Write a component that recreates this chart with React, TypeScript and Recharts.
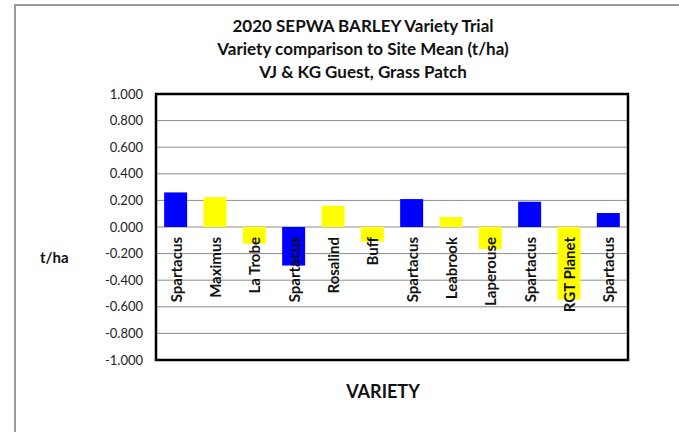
import { Bar, BarChart, CartesianGrid, Cell, LabelList, ReferenceArea, XAxis, YAxis } from 'recharts';

const varieties = [
  'Spartacus', 'Maximus', 'La Trobe', 'Spartacus', 'Rosalind', 'Buff',
  'Spartacus', 'Leabrook', 'Laperouse', 'Spartacus', 'RGT Planet', 'Spartacus',
];
const diffToMean = [0.26, 0.225, -0.125, -0.29, 0.16, -0.11, 0.21, 0.075, -0.165, 0.19, -0.545, 0.105];
const yTicks = [-1, -0.8, -0.6, -0.4, -0.2, 0, 0.2, 0.4, 0.6, 0.8, 1];
const checkVariety = 'Spartacus';

const data = varieties.map((name, i) => ({ name, diff: diffToMean[i] }));

const FONT = 'Lato, "Open Sans", sans-serif';

// variety name sits just under the zero line, reading bottom-to-top
const VarietyLabel = (props: any) => {
  const { x, y, width, height, index } = props;
  const v = diffToMean[index];
  const zeroY = v >= 0 ? Math.max(y, y + height) : Math.min(y, y + height);
  const cx = x + width / 2;
  const ty = zeroY + 10;
  return (
    <text
      x={cx}
      y={ty}
      transform={`rotate(-90, ${cx}, ${ty})`}
      textAnchor="end"
      dominantBaseline="central"
      fontFamily={FONT}
      fontWeight="bold"
      fontSize={15}
      fill="#111"
    >
      {varieties[index]}
    </text>
  );
};

export default function App() {
  return (
    <div style={{ position: 'absolute', left: 0, top: 0, width: 679, height: 432, overflow: 'hidden', background: '#fff', fontFamily: FONT }}>
      <div style={{ position: 'absolute', left: 14, top: 4, width: 900, height: 600, border: '2px solid #9a9a9a' }} />
      <div style={{ position: 'absolute', left: 163, width: 400, top: 14, textAlign: 'center', fontWeight: 'bold', fontSize: 17, lineHeight: '23px', color: '#111' }}>
        <div>2020 SEPWA BARLEY Variety Trial</div>
        <div>Variety comparison to Site Mean (t/ha)</div>
        <div>VJ &amp; KG Guest, Grass Patch</div>
      </div>
      <div style={{ position: 'absolute', left: 40, top: 248, fontWeight: 'bold', fontSize: 15, color: '#111' }}>t/ha</div>
      <div style={{ position: 'absolute', left: 283, width: 200, top: 380, textAlign: 'center', fontWeight: 'bold', fontSize: 18, color: '#111' }}>VARIETY</div>
      <div style={{ position: 'absolute', left: 0, top: 0 }}>
        <BarChart
          width={679}
          height={432}
          data={data}
          margin={{ top: 94, right: 51, left: 0, bottom: 72 }}
          barCategoryGap="20.7%"
        >
          <CartesianGrid vertical={false} stroke="#8c8c8c" />
          <XAxis dataKey="name" hide />
          <YAxis
            width={156}
            domain={[-1, 1]}
            ticks={yTicks}
            tickFormatter={(v: number) => v.toFixed(3)}
            tickLine={false}
            axisLine={false}
            tickSize={0}
            tickMargin={13}
            tick={{ fontFamily: FONT, fontSize: 13, fill: '#222' }}
            interval={0}
          />
          <ReferenceArea y1={-1} y2={1} fill="none" stroke="#000" strokeWidth={2.5} />
          <Bar dataKey="diff" isAnimationActive={false}>
            {data.map((d, i) => (
              <Cell key={i} fill={d.name === checkVariety ? '#0000ff' : '#ffff00'} />
            ))}
            <LabelList dataKey="name" content={VarietyLabel} />
          </Bar>
        </BarChart>
      </div>
    </div>
  );
}
